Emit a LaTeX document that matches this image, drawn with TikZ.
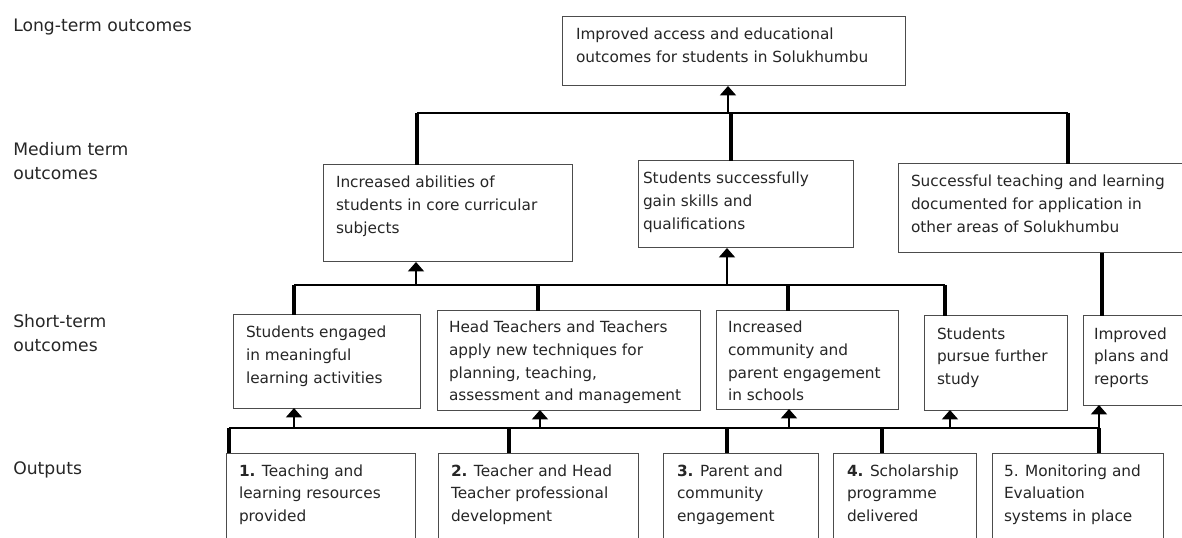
\documentclass[tikz,border=0pt]{standalone}
\usepackage{fontspec}
\setmainfont{DejaVu Sans}
\usetikzlibrary{arrows.meta}

% \boxat{name}{x1}{y1}{x2}{y2}{left pad}{first baseline}{text}
% all lengths in px; text is set top-left inside the frame
\newcommand\boxat[8]{%
  \pgfmathsetlengthmacro\bxw{(#4-#2)*0.75pt}%
  \pgfmathsetlengthmacro\bxh{(#5-#3)*0.75pt}%
  \pgfmathsetlengthmacro\bxp{#6*0.75pt}%
  \pgfmathsetlengthmacro\bxb{#7*0.75pt}%
  \node[box, anchor=north west] (#1) at (#2,#3)
    {\parbox[c][\bxh][t]{\bxw}{\fontsize{11.5pt}{17pt}\selectfont
      \raggedright\leftskip=\bxp\relax\rule{0pt}{\bxb}#8}};%
}
\newcommand\levellabel[1]{\parbox[t]{200pt}{\fontsize{12.9pt}{18pt}\selectfont #1}}

\begin{document}
\begin{tikzpicture}[x=0.75pt,y=-0.75pt,
  box/.style={draw=black!70, line width=0.75pt, inner sep=0pt, outer sep=0pt,
              text=black!85},
  lab/.style={inner sep=0pt, anchor=base west, text=black!85},
  bar/.style={line width=1.5pt},
  stem/.style={line width=3pt},
  feed/.style={line width=1pt, -{Triangle[width=12pt,length=7pt]}},
]
\useasboundingbox (0,0) rectangle (1182,538);
\fill[white] (0,0) rectangle (1182,538);
\clip (0,0) rectangle (1182,538);

% level labels
\node[lab] (l1) at (13,32) {\levellabel{Long-term outcomes}};
\node[lab] (l2) at (13,156) {\levellabel{Medium term\\outcomes}};
\node[lab] (l3) at (13,328) {\levellabel{Short-term\\outcomes}};
\node[lab] (l4) at (13,474) {\levellabel{Outputs}};

% long-term outcome
\boxat{top}{562}{17}{905}{86}{14}{23}{Improved access and educational\\outcomes for students in Solukhumbu}

% medium-term outcomes
\boxat{m1}{323}{165}{572}{262}{13}{23}{Increased abilities of\\students in core curricular\\subjects}
\boxat{m2}{638}{161}{853}{248}{5}{23}{Students successfully\\gain skills and\\qualifications}
\boxat{m3}{898}{164}{1190}{253}{13}{23}{Successful teaching and learning\\documented for application in\\other areas of Solukhumbu}

% short-term outcomes
\boxat{s1}{233}{315}{420}{408}{13}{23}{Students engaged\\in meaningful\\learning activities}
\boxat{s2}{437}{311}{700}{410}{12}{22}{Head Teachers and Teachers\\apply new techniques for\\planning, teaching,\\assessment and management}
\boxat{s3}{716}{311}{898}{409}{12}{22}{Increased\\community and\\parent engagement\\in schools}
\boxat{s4}{924}{316}{1067}{410}{13}{23}{Students\\pursue further\\study}
\boxat{s5}{1083}{316}{1190}{405}{11}{23}{Improved\\plans and\\reports}

% outputs
\boxat{o1}{226}{453}{415}{545}{13}{23}{\textbf{1.} Teaching and\\learning resources\\provided}
\boxat{o2}{438}{453}{638}{545}{13}{23}{\textbf{2.} Teacher and Head\\Teacher professional\\development}
\boxat{o3}{663}{453}{818}{545}{14}{23}{\textbf{3.} Parent and\\community\\engagement}
\boxat{o4}{833}{453}{976}{545}{14}{23}{\textbf{4.} Scholarship\\programme\\delivered}
\boxat{o5}{992}{453}{1163}{545}{12}{23}{5. Monitoring and\\Evaluation\\systems in place}

% medium -> long-term
\coordinate (b1l) at (417,113);
\coordinate (b1r) at (1068,113);
\draw[bar] (b1l) -- (b1r);
\draw[stem] (b1l) -- (417,0 |- m1.north);
\draw[stem] (731,113) -- (731,0 |- m2.north);
\draw[stem] (b1r) -- (1068,0 |- m3.north);
\draw[feed] (728,113) -- (728,0 |- top.south);

% short -> medium
\coordinate (b2l) at (294,285);
\coordinate (b2r) at (945,285);
\draw[bar] (b2l) -- (b2r);
\draw[stem] (b2l) -- (294,0 |- s1.north);
\draw[stem] (538,285) -- (538,0 |- s2.north);
\draw[stem] (788,285) -- (788,0 |- s3.north);
\draw[stem] (b2r) -- (945,0 |- s4.north);
\draw[feed] (416,285) -- (416,0 |- m1.south);
\draw[feed] (727,285) -- (727,0 |- m2.south);
\draw[stem] (1102,0 |- m3.south) -- (1102,0 |- s5.north);

% outputs -> short
\coordinate (b3l) at (229,428);
\coordinate (b3r) at (1099,428);
\draw[bar] (b3l) -- (b3r);
\draw[stem] (b3l) -- (229,0 |- o1.north);
\draw[stem] (509,428) -- (509,0 |- o2.north);
\draw[stem] (727,428) -- (727,0 |- o3.north);
\draw[stem] (882,428) -- (882,0 |- o4.north);
\draw[stem] (b3r) -- (1099,0 |- o5.north);
\draw[feed] (294,428) -- (294,0 |- s1.south);
\draw[feed] (540,428) -- (540,0 |- s2.south);
\draw[feed] (789,428) -- (789,0 |- s3.south);
\draw[feed] (950,428) -- (950,0 |- s4.south);
\draw[feed] (b3r) -- (1099,0 |- s5.south);
\end{tikzpicture}
\end{document}
